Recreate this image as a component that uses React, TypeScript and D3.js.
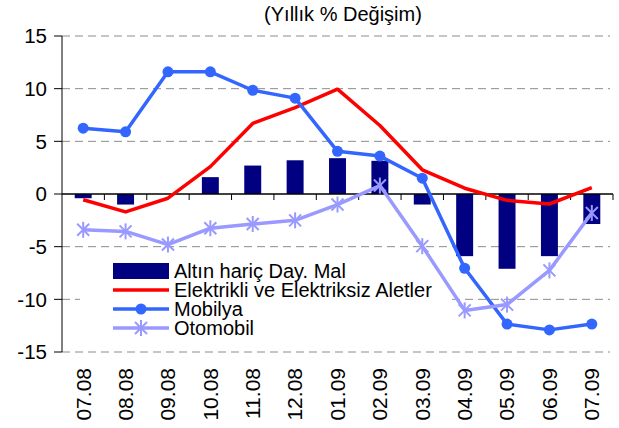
import React from "react";
import * as d3 from "d3";

const categories = ["07.08","08.08","09.08","10.08","11.08","12.08","01.09","02.09","03.09","04.09","05.09","06.09","07.09"];
const altinHaric = [-0.4, -1.0, 0, 1.6, 2.7, 3.2, 3.4, 3.15, -1.0, -5.9, -7.1, -5.9, -2.85];
const elektrikli = [-0.55, -1.7, -0.4, 2.6, 6.7, 8.2, 9.95, 6.5, 2.3, 0.55, -0.6, -0.95, 0.6];
const mobilya = [6.25, 5.9, 11.6, 11.6, 9.85, 9.1, 4.05, 3.6, 1.5, -7.05, -12.35, -12.9, -12.35];
const otomobil = [-3.4, -3.55, -4.8, -3.25, -2.85, -2.5, -1.0, 0.8, -4.95, -11.05, -10.5, -7.25, -1.8];
const yTicks = [15, 10, 5, 0, -5, -10, -15];
const seriesNames = ["Altın hariç Day. Mal", "Elektrikli ve Elektriksiz Aletler", "Mobilya", "Otomobil"];
const title = "(Yıllık % Değişim)";

const W = 619, H = 428;
const FONT = "'Liberation Sans', Arial, sans-serif";
const C_BAR = "#000080", C_RED = "#FF0000", C_BLUE = "#3366FF", C_LAV = "#9999FF";

function Star({ cx, cy, r, color }: { cx: number; cy: number; r: number; color: string }) {
  const d = r * 0.75;
  return (
    <g stroke={color} strokeWidth={2}>
      <line x1={cx} y1={cy - r} x2={cx} y2={cy + r} />
      <line x1={cx - d} y1={cy - d} x2={cx + d} y2={cy + d} />
      <line x1={cx - d} y1={cy + d} x2={cx + d} y2={cy - d} />
    </g>
  );
}

export default function App() {
  const x = d3.scaleBand<string>().domain(categories).range([62, 613]).padding(0);
  const y = d3.scaleLinear().domain([-15, 15]).range([352, 36]);
  const bw = x.bandwidth();
  const cx = (i: number) => (x(categories[i]) as number) + bw / 2;
  const line = d3.line<number>().x((_, i) => cx(i)).y((v) => y(v));

  const legendRows = [271, 290, 309, 328];

  return (
    <svg width={W} height={H} style={{ position: "absolute", left: 0, top: 0, background: "#fff" }} fontFamily={FONT}>
      <text x={343} y={21} fontSize={20} textAnchor="middle" fill="#000">{title}</text>

      {/* gridlines */}
      {yTicks.filter((t) => t !== 0).map((t) => (
        <line key={"g" + t} x1={62} x2={610} y1={y(t)} y2={y(t)} stroke="#8c8c8c" strokeWidth={1} strokeDasharray="8,5" />
      ))}

      {/* legend background */}
      <rect x={80} y={257} width={372} height={86} fill="#fff" />

      {/* bars */}
      {altinHaric.map((v, i) => (
        <rect key={"b" + i} x={cx(i) - bw * 0.2} width={bw * 0.4} y={Math.min(y(v), y(0))} height={Math.abs(y(v) - y(0))} fill={C_BAR} />
      ))}

      {/* y axis */}
      <line x1={62} x2={62} y1={y(15)} y2={y(-15)} stroke="#000" strokeWidth={1} />
      {yTicks.map((t) => (
        <g key={"t" + t}>
          <line x1={54} x2={62} y1={y(t)} y2={y(t)} stroke="#000" />
          <text x={47} y={y(t)} dy="0.35em" fontSize={20.5} textAnchor="end" fill="#000">{t}</text>
        </g>
      ))}

      {/* zero axis */}
      <line x1={62} x2={613} y1={y(0)} y2={y(0)} stroke="#000" strokeWidth={1.3} />
      {categories.map((c, i) => (
        <line key={"xt" + i} x1={(x(c) as number) + bw} x2={(x(c) as number) + bw} y1={y(0)} y2={y(0) + 6} stroke="#000" />
      ))}

      {/* lines */}
      <path d={line(elektrikli) as string} fill="none" stroke={C_RED} strokeWidth={3.5} strokeLinejoin="round" />
      <path d={line(mobilya) as string} fill="none" stroke={C_BLUE} strokeWidth={3.5} strokeLinejoin="round" />
      {mobilya.map((v, i) => (
        <circle key={"m" + i} cx={cx(i)} cy={y(v)} r={5.5} fill={C_BLUE} />
      ))}
      <path d={line(otomobil) as string} fill="none" stroke={C_LAV} strokeWidth={3.5} strokeLinejoin="round" />
      {otomobil.map((v, i) => (
        <Star key={"o" + i} cx={cx(i)} cy={y(v)} r={8} color={C_LAV} />
      ))}

      {/* x labels */}
      {categories.map((c, i) => (
        <text key={"xl" + i} transform={`translate(${cx(i)},368) rotate(-90)`} dy="0.35em" fontSize={21} textAnchor="end" fill="#000">{c}</text>
      ))}

      {/* legend */}
      <rect x={113} y={263} width={56} height={16} fill={C_BAR} />
      <line x1={113} x2={169} y1={legendRows[1]} y2={legendRows[1]} stroke={C_RED} strokeWidth={3.5} />
      <line x1={113} x2={169} y1={legendRows[2]} y2={legendRows[2]} stroke={C_BLUE} strokeWidth={3.5} />
      <circle cx={141} cy={legendRows[2]} r={5.5} fill={C_BLUE} />
      <line x1={113} x2={169} y1={legendRows[3]} y2={legendRows[3]} stroke={C_LAV} strokeWidth={3.5} />
      <Star cx={141} cy={legendRows[3]} r={8} color={C_LAV} />
      {seriesNames.map((n, i) => (
        <text key={"ln" + i} x={174} y={legendRows[i]} dy="0.35em" fontSize={20} fill="#000">{n}</text>
      ))}
    </svg>
  );
}
